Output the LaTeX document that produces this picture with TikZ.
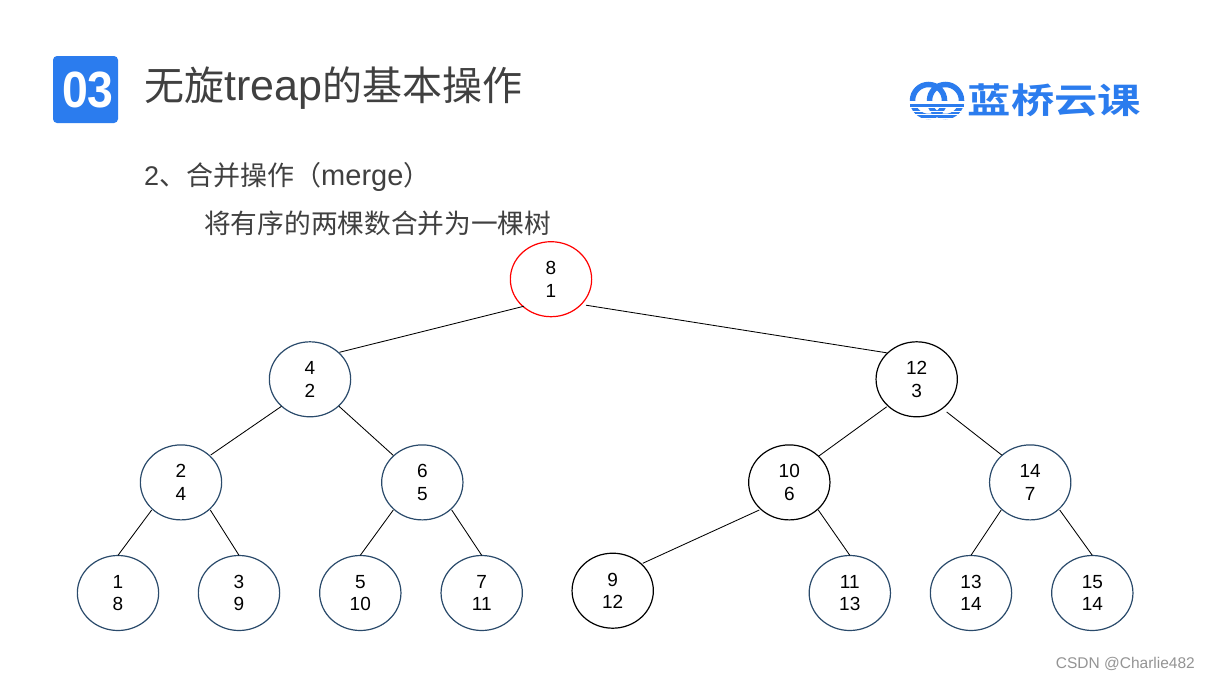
\documentclass[tikz,border=0pt]{standalone}
\usepackage{graphicx}
\usepackage{fontspec}
\setmainfont{Liberation Sans}
\newfontfamily\cjk{Noto Sans CJK SC}
\newfontfamily\cjkb{Noto Sans CJK SC Bold}
\definecolor{brand}{HTML}{2B7CEE}
\definecolor{txt}{HTML}{404040}
\definecolor{ringblue}{HTML}{2A4A6B}
\usetikzlibrary{shapes.geometric}
\tikzset{
  tn/.style={ellipse,minimum width=81.3pt,minimum height=75pt,inner sep=0pt,align=center,
    font=\fontsize{19}{22.5}\selectfont,line width=1.2pt},
  navy/.style={tn,draw=ringblue},
  blk/.style={tn,draw=black},
  redn/.style={tn,draw=red},
  ln/.style={line width=0.85pt,black},
  txtn/.style={anchor=west,inner sep=0pt,text=txt},
}
% edge between two named nodes, ends given as offsets from each node centre
\newcommand{\tedge}[6]{\draw[ln] ([shift={(#3,#4)}]#1.center) -- ([shift={(#5,#6)}]#2.center);}
\begin{document}
\begin{tikzpicture}[x=1pt,y=-1pt]
\useasboundingbox (0,0) rectangle (1209,680);
\fill[white] (0,0) rectangle (1209,680);
% header
\node[fill=brand,rounded corners=4pt,minimum width=65pt,minimum height=67pt,inner sep=0pt,
  text=white,font=\fontsize{51}{51}\selectfont\bfseries] (badge) at (85.5,89.5) {\hspace*{5pt}\scalebox{0.91}[1]{03}};
\node[txtn,font=\fontsize{40}{40}\selectfont] (title) at (144,88) {{\cjk 无旋}{\fontsize{43}{40}\selectfont treap}{\cjk 的基本操作}};
\node[txtn,font=\fontsize{27}{27}\selectfont] (sub) at (144,177) {2{\cjk 、合并操作（}{\fontsize{29}{27}\selectfont merge}{\cjk ）}};
\node[txtn,font=\fontsize{26.7}{27}\selectfont] (desc) at (204,223) {\cjk 将有序的两棵数合并为一棵树};
% logo
\begin{scope}
\clip (905,75) rectangle (967,125);
\draw[brand,line width=5.5pt] (928.5,100.5) circle (16);
\draw[brand,line width=5.5pt] (945.5,100.5) circle (16);
\fill[white] (905,101) rectangle (967,103.5);
\fill[brand] (910,103.5) rectangle (964,106.5);
\foreach \yy in {107.5,111,114.5,118}{\draw[white,line width=0.9pt] (905,\yy) -- (967,\yy);}
\end{scope}
\node[text=brand,font=\fontsize{35}{35}\cjkb,xscale=1.24,transform shape,inner sep=0pt] (logo) at (1054.5,100.5) {蓝桥云课};
% nodes
\node[redn] (n8) at (551,279.2) {8\\1};
\node[navy] (n4) at (310,379.3) {4\\2};
\node[blk] (n12) at (916.7,379.3) {12\\3};
\node[navy] (n2) at (181,482.4) {2\\4};
\node[navy] (n6) at (422.3,482.4) {6\\5};
\node[blk] (n10) at (789.3,482.4) {10\\6};
\node[navy] (n14) at (1030.2,482.4) {14\\7};
\node[navy] (n1) at (118,593) {1\\8};
\node[navy] (n3) at (239,593) {3\\9};
\node[navy] (n5) at (360.3,593) {5\\10};
\node[navy] (n7) at (481.7,593) {7\\11};
\node[blk] (n9) at (612.7,590.7) {9\\12};
\node[navy] (n11) at (849.8,593) {11\\13};
\node[navy] (n13) at (971,593) {13\\14};
\node[navy] (n15) at (1092.3,593) {15\\14};
% edges
\tedge{n8}{n4}{-27}{27}{29.5}{-27}
\tedge{n8}{n12}{35}{26}{-30}{-26.5}
\tedge{n4}{n2}{-28.5}{27}{29.7}{-27.4}
\tedge{n4}{n6}{29}{27}{-29}{-27}
\tedge{n12}{n10}{-30}{27.5}{29}{-26}
\tedge{n12}{n14}{30}{32.7}{-28.5}{-27.4}
\tedge{n2}{n1}{-29.3}{27.6}{0}{-37.7}
\tedge{n2}{n3}{29.3}{27.6}{0}{-37.7}
\tedge{n6}{n5}{-29}{27.6}{0}{-37.7}
\tedge{n6}{n7}{29.4}{27.6}{0}{-37.7}
\tedge{n10}{n9}{-30}{27.6}{30}{-27.4}
\tedge{n10}{n11}{29}{27.6}{0}{-37.7}
\tedge{n14}{n13}{-29}{27.6}{0}{-37.7}
\tedge{n14}{n15}{29.5}{27.6}{0}{-37.7}
% watermark
\node[anchor=east,inner sep=0pt,text=black!42,font=\fontsize{15.5}{15.5}\selectfont] (wm) at (1195,664) {CSDN @Charlie482};
\end{tikzpicture}
\end{document}
